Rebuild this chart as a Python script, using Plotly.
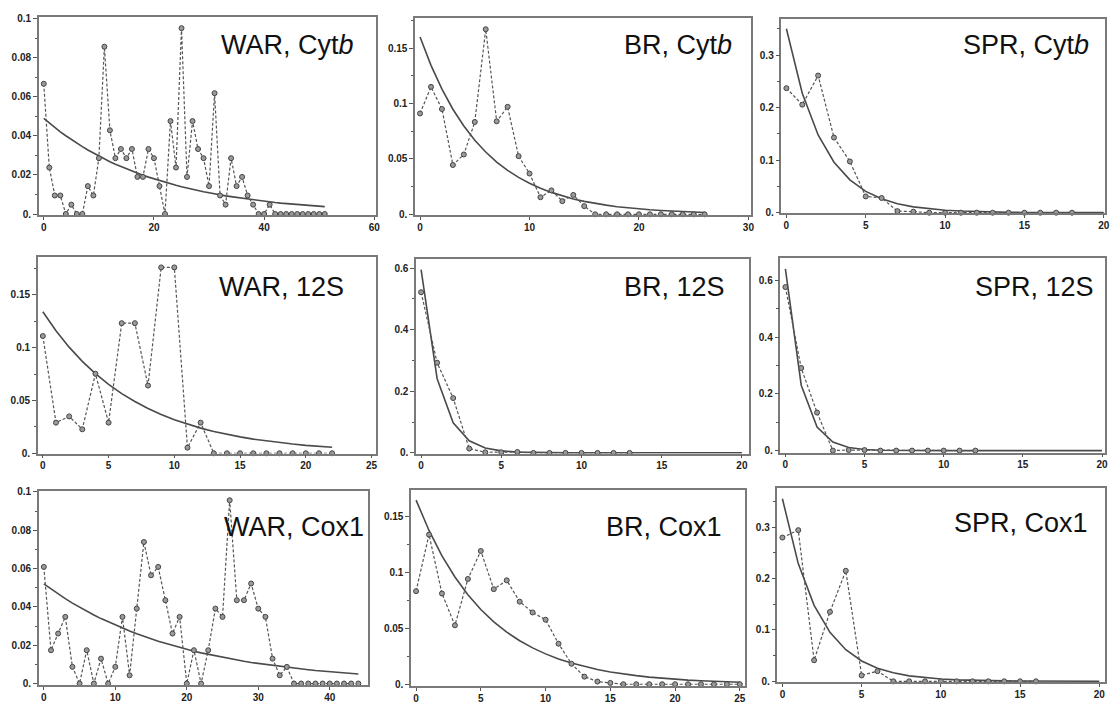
import plotly.graph_objects as go

W, H = 1115, 708

# ---------------- data ----------------
war_cytb_obs = [0.0667, 0.0238, 0.0095, 0.0095, 0, 0.0048, 0, 0, 0.0143, 0.0095,
                0.0286, 0.0857, 0.0429, 0.0286, 0.0333, 0.0286, 0.0333, 0.0190, 0.0190, 0.0333,
                0.0286, 0.0143, 0, 0.0476, 0.0238, 0.0952, 0.0190, 0.0476, 0.0333, 0.0286,
                0.0143, 0.0619, 0.0095, 0.0048, 0.0286, 0.0143, 0.0190, 0.0095, 0.0048, 0,
                0, 0.0048, 0, 0, 0, 0, 0, 0, 0, 0, 0, 0]
war_cytb_fit = [0.0490, 0.0466, 0.0443, 0.0421, 0.0401, 0.0381, 0.0363, 0.0345, 0.0328, 0.0312,
                0.0297, 0.0282, 0.0268, 0.0255, 0.0243, 0.0231, 0.0220, 0.0209, 0.0199, 0.0189,
                0.0180, 0.0171, 0.0162, 0.0154, 0.0147, 0.0140, 0.0133, 0.0126, 0.0120, 0.0114,
                0.0109, 0.0103, 0.0098, 0.0093, 0.0089, 0.0085, 0.0080, 0.0076, 0.0073, 0.0069,
                0.0066, 0.0062, 0.0059, 0.0056, 0.0054, 0.0051, 0.0049, 0.0046, 0.0044, 0.0042,
                0.0040, 0.0038]

br_cytb_obs = [0.091, 0.115, 0.095, 0.0445, 0.054, 0.0833, 0.167, 0.0839, 0.097, 0.0525,
               0.0368, 0.0154, 0.0216, 0.0119, 0.0175, 0.0074, 0, 0, 0, 0,
               0, 0, 0, 0, 0, 0, 0]
br_cytb_fit = [0.1600, 0.1344, 0.1129, 0.0948, 0.0797, 0.0669, 0.0562, 0.0472, 0.0397, 0.0333,
               0.0280, 0.0235, 0.0198, 0.0166, 0.0139, 0.0117, 0.0098, 0.0083, 0.0069, 0.0058,
               0.0049, 0.0041, 0.0035, 0.0029, 0.0025, 0.0021, 0.0017]

spr_cytb_obs = [0.237, 0.2056, 0.261, 0.143, 0.0975, 0.031, 0.028, 0.003, 0.002, 0,
                0, 0, 0, 0, 0, 0, 0, 0, 0]
spr_cytb_fit = [0.3500, 0.2275, 0.1479, 0.0961, 0.0625, 0.0406, 0.0264, 0.0172, 0.0111, 0.0072,
                0.0047, 0.0031, 0.0020, 0.0013, 0.0008, 0.0005, 0.0003, 0.0002, 0.0001, 0.0001,
                0.0001]

war_12s_obs = [0.111, 0.029, 0.0349, 0.0227, 0.0753, 0.029, 0.1232, 0.1232, 0.0641, 0.176,
               0.176, 0.0053, 0.029, 0, 0, 0, 0, 0, 0, 0,
               0, 0, 0]
war_12s_fit = [0.1340, 0.1160, 0.1005, 0.0870, 0.0754, 0.0653, 0.0565, 0.0490, 0.0424, 0.0367,
               0.0318, 0.0275, 0.0238, 0.0206, 0.0179, 0.0155, 0.0134, 0.0116, 0.0101, 0.0087,
               0.0075, 0.0065, 0.0057]

br_12s_obs = [0.522, 0.293, 0.178, 0.014, 0.002, 0.002, 0.003, 0, 0, 0,
              0, 0, 0, 0]
br_12s_fit = [0.595, 0.241, 0.0976, 0.0395, 0.016, 0.0065, 0.0026, 0.0011, 0.0004, 0.0002,
              0.0001, 0, 0, 0, 0, 0, 0, 0, 0, 0,
              0]

spr_12s_obs = [0.576, 0.291, 0.134, 0, 0.002, 0.002, 0, 0, 0, 0,
               0, 0, 0]
spr_12s_fit = [0.640, 0.2304, 0.0829, 0.0299, 0.0107, 0.0039, 0.0014, 0.0005, 0.0002, 0.0001,
               0, 0, 0, 0, 0, 0, 0, 0, 0, 0,
               0]

war_cox1_obs = [0.0609, 0.0174, 0.0261, 0.0348, 0.0087, 0, 0.0174, 0, 0.0130, 0,
                0.0087, 0.0348, 0.0043, 0.0391, 0.0739, 0.0565, 0.0609, 0.0435, 0.0261, 0.0348,
                0, 0.0174, 0, 0.0174, 0.0391, 0.0348, 0.0957, 0.0435, 0.0435, 0.0522,
                0.0391, 0.0348, 0.0130, 0.0043, 0.0087, 0, 0, 0, 0, 0,
                0, 0, 0, 0, 0]
war_cox1_fit = [0.0520, 0.0493, 0.0467, 0.0443, 0.0420, 0.0398, 0.0377, 0.0358, 0.0339, 0.0322,
                0.0305, 0.0289, 0.0274, 0.0260, 0.0246, 0.0233, 0.0221, 0.0210, 0.0199, 0.0188,
                0.0179, 0.0169, 0.0160, 0.0152, 0.0144, 0.0137, 0.0130, 0.0123, 0.0116, 0.0110,
                0.0105, 0.0099, 0.0094, 0.0089, 0.0085, 0.0080, 0.0076, 0.0072, 0.0068, 0.0065,
                0.0061, 0.0058, 0.0055, 0.0052, 0.0050]

br_cox1_obs = [0.0834, 0.1341, 0.0813, 0.0528, 0.0943, 0.1194, 0.0852, 0.0931, 0.074, 0.0643,
               0.0578, 0.0363, 0.0183, 0.0068, 0.0024, 0.0012, 0, 0, 0, 0,
               0, 0, 0, 0, 0, 0]
br_cox1_fit = [0.1650, 0.1378, 0.1150, 0.0961, 0.0802, 0.0670, 0.0559, 0.0467, 0.0390, 0.0326,
               0.0272, 0.0227, 0.0190, 0.0158, 0.0132, 0.0110, 0.0092, 0.0077, 0.0064, 0.0054,
               0.0045, 0.0037, 0.0031, 0.0026, 0.0022, 0.0018]

spr_cox1_obs = [0.2796, 0.294, 0.041, 0.135, 0.215, 0.0115, 0.0198, 0, 0, 0,
                0, 0, 0, 0, 0, 0, 0]
spr_cox1_fit = [0.3550, 0.2290, 0.1477, 0.0953, 0.0614, 0.0396, 0.0256, 0.0165, 0.0106, 0.0069,
                0.0044, 0.0029, 0.0018, 0.0012, 0.0008, 0.0005, 0.0003, 0.0002, 0.0001, 0.0001,
                0.0000]

titles = ["WAR, Cyt<i>b</i>", "BR, Cyt<i>b</i>", "SPR, Cyt<i>b</i>",
          "WAR, 12S", "BR, 12S", "SPR, 12S",
          "WAR, Cox1", "BR, Cox1", "SPR, Cox1"]

xticks_60 = [0, 20, 40, 60]
xticks_30 = [0, 10, 20, 30]
xticks_20 = [0, 5, 10, 15, 20]
xticks_25 = [0, 5, 10, 15, 20, 25]
xticks_40 = [0, 10, 20, 30, 40]
yticks_a = [0, 0.02, 0.04, 0.06, 0.08, 0.1]
ylabels_a = ["0.", "0.02", "0.04", "0.06", "0.08", "0.1"]
yticks_b = [0, 0.05, 0.1, 0.15]
ylabels_b = ["0.", "0.05", "0.1", "0.15"]
yticks_c = [0, 0.1, 0.2, 0.3]
ylabels_c = ["0.", "0.1", "0.2", "0.3"]
yticks_d = [0, 0.2, 0.4, 0.6]
ylabels_d = ["0.", "0.2", "0.4", "0.6"]

# ---------------- layout of the panels (pixels) ----------------
panels = [
    dict(obs=war_cytb_obs, fit=war_cytb_fit, box=(39, 378, 12, 213), xr=(-0.90, 60.36), yr=(-0.0005, 0.101),
         xt=xticks_60, yt=yticks_a, yl=ylabels_a, ym=0.01, tp=(358, 41)),
    dict(obs=br_cytb_obs, fit=br_cytb_fit, box=(417, 754, 13, 213), xr=(-0.45, 30.2), yr=(-0.0006, 0.1773),
         xt=xticks_30, yt=yticks_b, yl=ylabels_b, ym=0.025, tp=(737, 41)),
    dict(obs=spr_cytb_obs, fit=spr_cytb_fit, box=(785, 1110, 14, 211), xr=(-0.31, 20.08), yr=(-0.0006, 0.369),
         xt=xticks_20, yt=yticks_c, yl=ylabels_c, ym=0.05, tp=(1096, 41)),
    dict(obs=war_12s_obs, fit=war_12s_fit, box=(38, 378, 256, 455), xr=(-0.38, 25.36), yr=(-0.0003, 0.1855),
         xt=xticks_25, yt=yticks_b, yl=ylabels_b, ym=0.025, tp=(348, 286)),
    dict(obs=br_12s_obs, fit=br_12s_fit, box=(418, 752, 258, 455), xr=(-0.31, 20.42), yr=(-0.0022, 0.6287),
         xt=xticks_20, yt=yticks_d, yl=ylabels_d, ym=0.1, tp=(730, 286)),
    dict(obs=spr_12s_obs, fit=spr_12s_fit, box=(784, 1110, 257, 454), xr=(-0.31, 20.19), yr=(-0.007, 0.677),
         xt=xticks_20, yt=yticks_d, yl=ylabels_d, ym=0.1, tp=(1101, 286)),
    dict(obs=war_cox1_obs, fit=war_cox1_fit, box=(39, 370, 493, 690), xr=(-0.70, 45.4), yr=(-0.0009, 0.1005),
         xt=xticks_40, yt=yticks_a, yl=ylabels_a, ym=0.01, tp=(368, 529)),
    dict(obs=br_cox1_obs, fit=br_cox1_fit, box=(413, 748, 492, 691), xr=(-0.38, 25.37), yr=(-0.0018, 0.174),
         xt=xticks_25, yt=yticks_b, yl=ylabels_b, ym=0.025, tp=(727, 529)),
    dict(obs=spr_cox1_obs, fit=spr_cox1_fit, box=(781, 1110, 490, 687), xr=(-0.31, 20.36), yr=(-0.0019, 0.3758),
         xt=xticks_20, yt=yticks_c, yl=ylabels_c, ym=0.05, tp=(1095, 525)),
]

fig = go.Figure()
tick_font = dict(family="Liberation Sans, Arial, sans-serif", size=10, color="#222", weight="bold")
frame_col = "#7a7a7a"

for i, p in enumerate(panels, start=1):
    sfx = "" if i == 1 else str(i)
    xa, ya = "x" + sfx, "y" + sfx
    l, r, t, b = p["box"]
    fig.add_trace(go.Scatter(
        x=list(range(len(p["fit"]))), y=p["fit"], mode="lines",
        line=dict(color="#4a4a4a", width=1.6), xaxis=xa, yaxis=ya,
        hoverinfo="skip", cliponaxis=False))
    fig.add_trace(go.Scatter(
        x=list(range(len(p["obs"]))), y=p["obs"], mode="lines+markers",
        line=dict(color="#555", width=1.2, dash="3px,2px"),
        marker=dict(symbol="circle", size=5, color="#9a9a9a", line=dict(color="#444", width=1)),
        xaxis=xa, yaxis=ya, cliponaxis=False))
    axis_common = dict(showline=True, mirror=True, linecolor=frame_col, linewidth=1.5,
                       showgrid=False, zeroline=False, ticks="outside",
                       tickcolor="#555", tickwidth=1, tickfont=tick_font, fixedrange=True)
    fig.layout["xaxis" + sfx] = dict(
        domain=[l / W, r / W], range=list(p["xr"]), anchor=ya, ticklen=3,
        tickmode="array", tickvals=p["xt"], ticktext=[str(v) for v in p["xt"]],
        ticklabelstandoff=-1, **axis_common)
    fig.layout["yaxis" + sfx] = dict(
        domain=[1 - b / H, 1 - t / H], range=list(p["yr"]), anchor=xa, ticklen=4,
        tickmode="array", tickvals=p["yt"], ticktext=p["yl"],
        minor=dict(ticks="outside", ticklen=2.5, tickcolor="#555", dtick=p["ym"], tick0=0),
        **axis_common)
    tx, ty = p["tp"]
    fig.add_annotation(
        text=titles[i - 1], x=tx / W, y=1 - ty / H, xref="paper", yref="paper",
        xanchor="right", yanchor="middle", showarrow=False,
        font=dict(family="Liberation Sans, Arial, sans-serif", size=27, color="#111"))

fig.update_layout(width=W, height=H, margin=dict(l=0, r=0, t=0, b=0),
                  paper_bgcolor="white", plot_bgcolor="white", showlegend=False)

fig.write_html("out.html", config={"displayModeBar": False},
               post_script="document.body.style.margin='0px';document.body.style.overflow='hidden';")
